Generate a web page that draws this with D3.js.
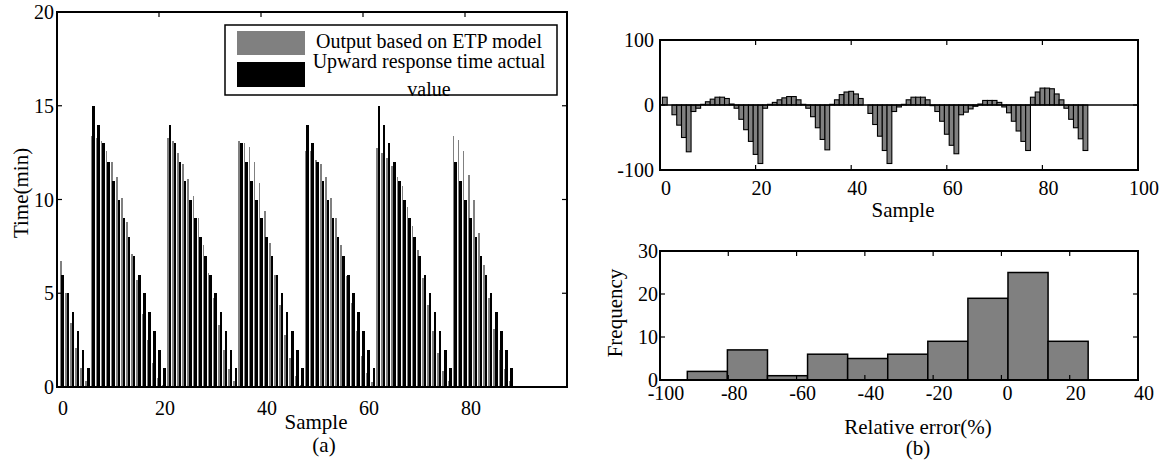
<!DOCTYPE html>
<meta charset='utf-8'>
<script src='https://d3js.org/d3.v7.min.js'></script>
<style>
body { margin: 0; background: #fff; }
svg text { font-family: 'Liberation Serif', 'Times New Roman', serif; fill: #000; }
</style>
<body>
<script>
// ---- data ----
// (a) upward response time per sample, minutes
var actual = [6,5,4,3,2,1,
  15,14,13,12,11,10,9,8,7,6,5,4,3,2,1,
  14,13,12,11,10,9,8,7,6,5,4,3,2,1,
  13,12,11,10,9,8,7,6,5,4,3,2,1,
  14,13,12,11,10,9,8,7,6,5,4,3,2,1,
  15,14,13,12,11,10,9,8,7,6,5,4,3,2,1,
  12,11,10,9,8,7,6,5,4,3,2,1];
var model = [6.7,5.0,3.4,2.1,1.0,0.3,
  13.4,13.3,13.1,12.6,12.0,11.2,10.1,8.8,7.1,5.7,3.9,2.5,1.3,0.48,0.1,
  13.3,13.1,12.5,11.9,11.1,10.2,9.0,7.6,6.1,4.75,3.3,1.95,0.94,0.31,
  13.1,13.0,12.8,12.0,10.9,9.4,7.7,6.0,4.35,2.8,1.56,0.6,0.1,
  12.6,12.6,12.1,11.9,11.2,10.1,9.0,7.6,5.9,4.5,3.0,1.65,0.76,0.25,
  12.75,12.5,12.2,11.8,11.2,10.7,9.6,8.6,7.3,5.8,4.4,3.0,1.8,0.88,0.3,
  13.4,13.2,12.6,11.3,10.0,8.2,6.5,4.75,3.1,1.95,0.96,0.3];
// (b) top: relative error per sample, %
var relErr = [12,0,-15,-31,-50,-72,
  -10,-5,1,5,9,12,12,10,1.5,-5,-22,-38,-56,-76,-90,
  -5,1,4,8,11,13,13,8,1,-5,-18,-35,-53,-69,
  1,8,16,20,21,17,10,0,-13,-30,-48,-70,-90,
  -10,-3,1,8,12,12,12,8,-1,-10,-25,-45,-62,-75,
  -15,-11,-6,-2,1.5,7,7,7,4,-3,-12,-25,-40,-56,-70,
  12,20,26,26,25,17,8,-5,-22,-35,-52,-70];
// (b) bottom: histogram of relative error
var histEdges = [-92,-80.26,-68.52,-56.78,-45.04,-33.3,-21.56,-9.82,1.92,13.66,25.4];
var histCounts = [2,7,1,6,5,6,9,19,25,9];

var xTicksA = [0,20,40,60,80], yTicksA = [0,5,10,15,20];
var xTicksE = [0,20,40,60,80,100], yTicksE = [-100,0,100];
var xTicksH = [-100,-80,-60,-40,-20,0,20,40], yTicksH = [0,10,20,30];
var legendLabels = ['Output based on ETP model', 'Upward response time actual', 'value'];

var GRAY = '#808080';
var samples = actual.map(function(d, i) { return i + 1; });

var svg = d3.select('body').append('svg').attr('width', 1170).attr('height', 466);

// MATLAB-ish box axes: inward ticks on all four sides, labels nudged right
function boxAxes(g, x, y, xt, yt, xLabelTicks, yLabelTicks, xLabY, yLabX) {
  var x0 = x.range()[0], x1 = x.range()[1], y0 = y.range()[0], y1 = y.range()[1];
  var tk = g.append('g').attr('stroke', '#000').attr('stroke-width', 1.2);
  xt.forEach(function(v) {
    tk.append('line').attr('x1', x(v)).attr('x2', x(v)).attr('y1', y0).attr('y2', y0 - 5);
    tk.append('line').attr('x1', x(v)).attr('x2', x(v)).attr('y1', y1).attr('y2', y1 + 5);
  });
  yt.forEach(function(v) {
    tk.append('line').attr('x1', x0).attr('x2', x0 + 5).attr('y1', y(v)).attr('y2', y(v));
    tk.append('line').attr('x1', x1).attr('x2', x1 - 5).attr('y1', y(v)).attr('y2', y(v));
  });
  g.append('rect').attr('x', x0).attr('y', y1).attr('width', x1 - x0).attr('height', y0 - y1)
    .attr('fill', 'none').attr('stroke', '#000').attr('stroke-width', 2);
  g.selectAll('.xl').data(xLabelTicks).enter().append('text')
    .attr('x', function(d) { return x(d) + 6; }).attr('y', xLabY)
    .attr('text-anchor', 'middle').attr('font-size', 20).text(function(d) { return d; });
  g.selectAll('.yl').data(yLabelTicks).enter().append('text')
    .attr('x', yLabX).attr('y', function(d) { return y(d); }).attr('dy', '0.35em')
    .attr('text-anchor', 'end').attr('font-size', 20).text(function(d) { return d; });
}

// ---------- (a) ----------
var xa = d3.scaleLinear().domain([0, 100]).range([57, 567]);
var ya = d3.scaleLinear().domain([0, 20]).range([387, 12]);
var ga = svg.append('g');
var bw = xa(1) - xa(0);

ga.append('g').attr('shape-rendering', 'crispEdges').selectAll('rect').data(samples).enter().append('rect')
  .attr('x', function(d) { return xa(d - 0.42); })
  .attr('width', 0.32 * bw)
  .attr('y', function(d, i) { return ya(model[i]); })
  .attr('height', function(d, i) { return ya(0) - ya(model[i]); })
  .attr('fill', GRAY);
ga.append('g').attr('shape-rendering', 'crispEdges').selectAll('rect').data(samples).enter().append('rect')
  .attr('x', function(d) { return xa(d - 0.12); })
  .attr('width', 0.5 * bw)
  .attr('y', function(d, i) { return ya(actual[i]); })
  .attr('height', function(d, i) { return ya(0) - ya(actual[i]); })
  .attr('fill', '#000');

boxAxes(ga, xa, ya, [20, 40, 60, 80], [5, 10, 15], xTicksA, yTicksA, 415, 54);

ga.append('text').attr('x', 316).attr('y', 429).attr('text-anchor', 'middle')
  .attr('font-size', 21).text('Sample');
ga.append('text').attr('x', 324).attr('y', 452).attr('text-anchor', 'middle')
  .attr('font-size', 21).text('(a)');
ga.append('text').attr('transform', 'translate(28,193) rotate(-90)')
  .attr('text-anchor', 'middle').attr('font-size', 21).text('Time(min)');

// legend
var lg = ga.append('g');
lg.append('rect').attr('x', 225).attr('y', 25).attr('width', 332).attr('height', 70).attr('fill', '#fff');
lg.append('rect').attr('x', 237).attr('y', 31).attr('width', 68).attr('height', 24).attr('fill', GRAY);
lg.append('rect').attr('x', 237).attr('y', 62).attr('width', 68).attr('height', 25).attr('fill', '#000');
lg.selectAll('text').data(legendLabels).enter().append('text')
  .attr('x', 429).attr('y', function(d, i) { return [48, 68, 96][i]; })
  .attr('text-anchor', 'middle').attr('font-size', 20).text(function(d) { return d; });
lg.append('rect').attr('x', 225).attr('y', 25).attr('width', 332).attr('height', 70)
  .attr('fill', 'none').attr('stroke', '#000').attr('stroke-width', 1.5);

// ---------- (b) top: relative error ----------
var xe = d3.scaleLinear().domain([0, 100]).range([660, 1138]);
var ye = d3.scaleLinear().domain([-100, 100]).range([170, 40]);
var ge = svg.append('g');

ge.append('g').selectAll('rect').data(samples).enter().append('rect')
  .attr('x', function(d) { return xe(d - 0.5); })
  .attr('width', xe(1) - xe(0))
  .attr('y', function(d, i) { return ye(Math.max(0, relErr[i])); })
  .attr('height', function(d, i) { return Math.abs(ye(relErr[i]) - ye(0)); })
  .attr('fill', GRAY).attr('stroke', '#000').attr('stroke-width', 1.1);
ge.append('line').attr('x1', xe(0)).attr('x2', xe(100)).attr('y1', ye(0)).attr('y2', ye(0))
  .attr('stroke', '#000').attr('stroke-width', 1.5);

boxAxes(ge, xe, ye, [20, 40, 60, 80], [0], xTicksE, yTicksE, 195, 654);
ge.append('text').attr('x', 903).attr('y', 217).attr('text-anchor', 'middle')
  .attr('font-size', 21).text('Sample');

// ---------- (b) bottom: histogram ----------
var xh = d3.scaleLinear().domain([-100, 40]).range([660, 1138]);
var yh = d3.scaleLinear().domain([0, 30]).range([380, 251]);
var gh = svg.append('g');

gh.append('g').selectAll('rect').data(histCounts).enter().append('rect')
  .attr('x', function(d, i) { return xh(histEdges[i]); })
  .attr('width', function(d, i) { return xh(histEdges[i + 1]) - xh(histEdges[i]); })
  .attr('y', function(d) { return yh(d); })
  .attr('height', function(d) { return yh(0) - yh(d); })
  .attr('fill', GRAY).attr('stroke', '#000').attr('stroke-width', 1.5);

boxAxes(gh, xh, yh, [-80, -60, -40, -20, 0, 20], [10, 20], xTicksH, yTicksH, 400, 658);
gh.append('text').attr('x', 918).attr('y', 434).attr('text-anchor', 'middle')
  .attr('font-size', 21).text('Relative error(%)');
gh.append('text').attr('x', 918).attr('y', 455).attr('text-anchor', 'middle')
  .attr('font-size', 21).text('(b)');
gh.append('text').attr('transform', 'translate(622,313) rotate(-90)')
  .attr('text-anchor', 'middle').attr('font-size', 21).text('Frequency');
</script>
